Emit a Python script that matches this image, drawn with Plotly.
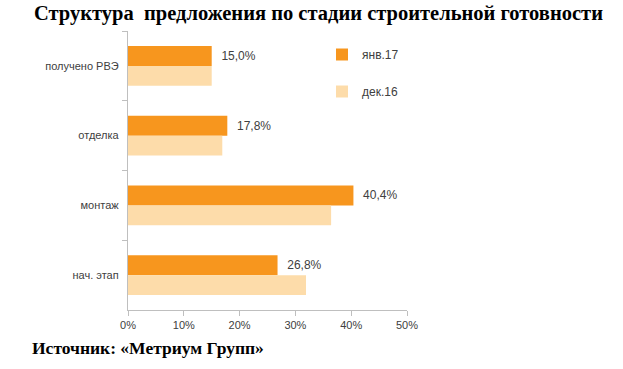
import plotly.graph_objects as go

categories = ["получено РВЭ", "отделка", "монтаж", "нач. этап"]
jan17 = [15.0, 17.8, 40.4, 26.8]
dec16 = [15.0, 16.9, 36.4, 31.9]
jan_labels = ["15,0%", "17,8%", "40,4%", "26,8%"]
tick_vals = [0, 10, 20, 30, 40, 50]
tick_text = ["0%", "10%", "20%", "30%", "40%", "50%"]

fig = go.Figure()
fig.add_trace(go.Bar(
    y=categories, x=jan17, orientation="h", name="янв.17",
    marker=dict(color="#F7961E", line=dict(width=0)),
    text=jan_labels, texttemplate="  %{text}", textposition="outside", cliponaxis=False,
    textfont=dict(family="Liberation Sans", size=12, color="#404040"),
    legendgroup="a",
))
fig.add_trace(go.Bar(
    y=categories, x=dec16, orientation="h", name="дек.16",
    marker=dict(color="#FDDCAA", line=dict(width=0)),
    legendgroup="b",
))

fig.update_layout(
    width=623, height=369,
    paper_bgcolor="white", plot_bgcolor="white",
    margin=dict(l=128, r=216, t=31, b=59, autoexpand=False),
    barmode="group", bargap=0.43, bargroupgap=0,
    font=dict(family="Liberation Sans", size=11, color="#404040"),
    showlegend=True,
    legend=dict(x=(322-128)/279, y=(310-40)/279, xanchor="left", yanchor="top",
                font=dict(family="Liberation Sans", size=12, color="#404040"),
                tracegroupgap=18, itemwidth=30, bgcolor="rgba(0,0,0,0)"),
    xaxis=dict(range=[0, 50], tickvals=tick_vals, ticktext=tick_text,
               showgrid=False, zeroline=False, showline=True, automargin=False,
               linecolor="#BFBFBF", linewidth=1, ticks="outside",
               ticklen=5, tickcolor="#BFBFBF",
               tickfont=dict(family="Liberation Sans", size=11, color="#404040")),
    yaxis=dict(autorange="reversed", showgrid=False, showline=True, automargin=False,
               linecolor="#BFBFBF", linewidth=1, ticks="outside",
               tickson="boundaries", ticklen=5, tickcolor="#BFBFBF",
               ticksuffix="  ",
               tickfont=dict(family="Liberation Sans", size=11, color="#404040")),
    annotations=[
        dict(text="<b>Структура  предложения по стадии строительной готовности</b>",
             xref="paper", yref="paper", x=(318-128)/279, y=1, yshift=18,
             xanchor="center", yanchor="middle", showarrow=False,
             font=dict(family="Liberation Serif", size=20.5, color="black")),
        dict(text="<b>Источник: «Метриум Групп»</b>",
             xref="paper", yref="paper", x=(30-128)/279, y=0, yshift=-38,
             xanchor="left", yanchor="middle", showarrow=False,
             font=dict(family="Liberation Serif", size=17.5, color="black")),
    ],
)
fig.write_html("out.html", config={"displayModeBar": False},
               post_script="document.body.style.margin='0';")
